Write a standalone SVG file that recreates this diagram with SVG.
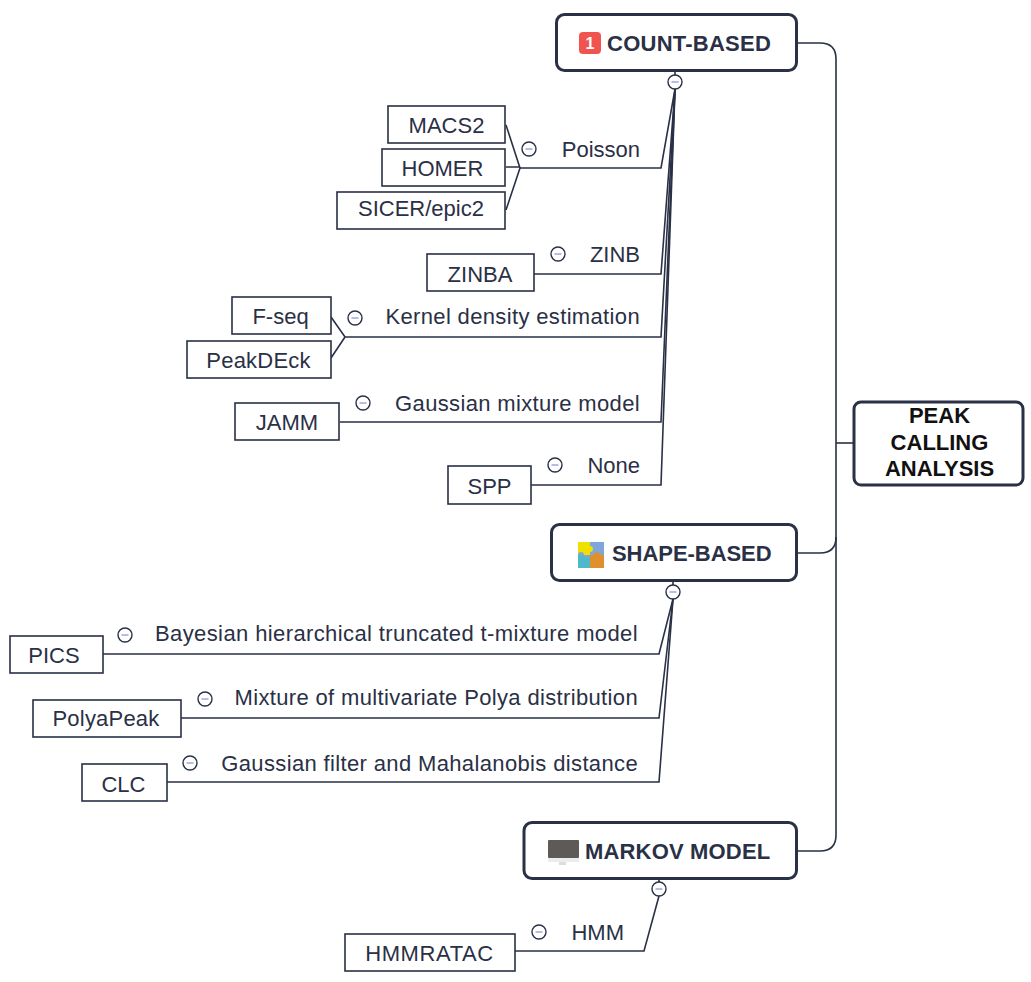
<svg xmlns="http://www.w3.org/2000/svg" width="1031" height="982" viewBox="0 0 1031 982">
<defs>
<style>
text{font-family:"Liberation Sans",Arial,sans-serif;fill:#2a3045}
.c{fill:none;stroke:#2a3045;stroke-width:1.6}
.main{fill:#fff;stroke:#2a3045;stroke-width:3}
.leaf{fill:#fff;stroke:#2a3045;stroke-width:1.6}
.t{font-size:22px}
.l{letter-spacing:.35px}
.h{font-size:22px;font-weight:700}
.m{text-anchor:middle}
.e{text-anchor:end}
.col{fill:#fff;stroke:#2a3045;stroke-width:1.4}
.dash{stroke:#a6abe0;stroke-width:1.6}
</style>
<g id="minus"><circle r="7" class="col"/><line x1="-3.5" x2="3.5" class="dash"/></g>
</defs>
<g id="connectors">
<path class="c" d="M797 43H820Q836 43 836 59V835Q836 851 820 851H797"/>
<path class="c" d="M797 553H820Q836 553 836 537"/>
<path class="c" d="M836 443H854"/>
<path class="c" d="M675 71V82"/>
<path class="c" d="M673 581V592"/>
<path class="c" d="M659 878V888"/>
<path class="c" d="M675 89L661 168H520"/>
<path class="c" d="M506 125L520 168L506 210M506 167H520"/>
<path class="c" d="M675 89L661 274H534"/>
<path class="c" d="M675 89L661 337H345L331 317M345 337L331 358"/>
<path class="c" d="M675 89L661 422H340"/>
<path class="c" d="M675 89L661 485H531"/>
<path class="c" d="M673 599L659 654H103"/>
<path class="c" d="M673 599L659 718H181"/>
<path class="c" d="M673 599L659 782H167"/>
<path class="c" d="M659 896L644 951H515"/>
</g>
<g id="root"><rect x="854" y="402" width="169" height="83" rx="7" class="main"/>
<text x="939.500" y="423" class="h m" style="fill:#111">PEAK</text><text x="939.500" y="450" class="h m" style="fill:#111">CALLING</text><text x="939.500" y="476" class="h m" style="fill:#111">ANALYSIS</text></g>
<g id="count-based"><rect x="556.500" y="14.500" width="240" height="56" rx="8" class="main"/>
<rect x="579" y="32" width="22" height="22" rx="4" fill="#f1534e"/><text x="590" y="49" class="m" style="fill:#fff;font-size:16px;font-weight:700">1</text>
<text x="607" y="51" class="h" style="letter-spacing:.25px">COUNT-BASED</text><use href="#minus" x="675" y="82"/></g>
<g id="shape-based"><rect x="551.500" y="524.500" width="245" height="56" rx="8" class="main"/>
<rect x="578" y="542" width="26" height="26" fill="#7ea6dc"/>
<path d="M578 542H590V546a3 3 0 0 1 0 6V555H584a3 3 0 0 0 -6 0Z" fill="#efe000"/>
<path d="M578 555H584a3 3 0 0 0 6 0H590V568H578Z" fill="#4db9c9"/>
<path d="M590 555H594a3 3 0 0 1 6 0H604V568H590Z" fill="#e0902a"/>
<text x="612" y="561" class="h" style="letter-spacing:-.05px">SHAPE-BASED</text><use href="#minus" x="673" y="592"/></g>
<g id="markov-model"><rect x="524" y="822.500" width="272.500" height="56" rx="8" class="main"/>
<rect x="548" y="840" width="31" height="18" rx="1" fill="#5e5a57"/><rect x="548" y="858" width="31" height="4" fill="#ececec"/><rect x="559" y="862" width="7" height="3" fill="#ddd"/>
<text x="585" y="859" class="h" style="letter-spacing:.17px">MARKOV MODEL</text><use href="#minus" x="659" y="889"/></g>

<g id="poisson"><text x="640" y="156.500" class="t e">Poisson</text><use href="#minus" x="529" y="149"/></g>
<g id="zinb"><text x="640" y="262" class="t e">ZINB</text><use href="#minus" x="558" y="254"/></g>
<g id="kde"><text x="640" y="324" class="t e l">Kernel density estimation</text><use href="#minus" x="355" y="318"/></g>
<g id="gmm"><text x="640" y="411" class="t e l">Gaussian mixture model</text><use href="#minus" x="363" y="403"/></g>
<g id="none"><text x="640" y="473" class="t e">None</text><use href="#minus" x="555" y="465"/></g>
<g id="bayes"><text x="638" y="641" class="t e" style="letter-spacing:.39px">Bayesian hierarchical truncated t-mixture model</text><use href="#minus" x="125" y="635"/></g>
<g id="polya"><text x="638" y="705" class="t e l">Mixture of multivariate Polya distribution</text><use href="#minus" x="205" y="699"/></g>
<g id="gauss"><text x="638" y="771" class="t e" style="letter-spacing:.36px">Gaussian filter and Mahalanobis distance</text><use href="#minus" x="190" y="763"/></g>
<g id="hmm"><text x="624" y="940" class="t e">HMM</text><use href="#minus" x="539" y="932"/></g>

<g id="macs2"><rect x="388" y="106" width="117" height="37" class="leaf"/><text x="446.500" y="132.500" class="t m">MACS2</text></g>
<g id="homer"><rect x="382" y="149" width="123" height="37" class="leaf"/><text x="442.500" y="176" class="t m">HOMER</text></g>
<g id="sicer"><rect x="337" y="192" width="168" height="37" class="leaf"/><text x="421" y="216" class="t m">SICER/epic2</text></g>
<g id="zinba"><rect x="427" y="254" width="107" height="37" class="leaf"/><text x="480" y="281.500" class="t m">ZINBA</text></g>
<g id="fseq"><rect x="232" y="297" width="99" height="37" class="leaf"/><text x="280.500" y="323.500" class="t m">F-seq</text></g>
<g id="peakdeck"><rect x="187" y="341" width="144" height="37" class="leaf"/><text x="258.500" y="368" class="t m" style="letter-spacing:.2px">PeakDEck</text></g>
<g id="jamm"><rect x="235" y="403" width="104" height="37" class="leaf"/><text x="287" y="430" class="t m">JAMM</text></g>
<g id="spp"><rect x="448" y="466" width="83" height="38" class="leaf"/><text x="489.500" y="494" class="t m">SPP</text></g>
<g id="pics"><rect x="10" y="636" width="93" height="37" class="leaf"/><text x="54" y="663" class="t m">PICS</text></g>
<g id="polyapeak"><rect x="33" y="700" width="148" height="37" class="leaf"/><text x="106" y="726" class="t m" style="letter-spacing:.2px">PolyaPeak</text></g>
<g id="clc"><rect x="82" y="764" width="85" height="37" class="leaf"/><text x="123.500" y="792" class="t m">CLC</text></g>
<g id="hmmratac"><rect x="345" y="934" width="170" height="37" class="leaf"/><text x="429.500" y="961" class="t m" style="letter-spacing:.6px">HMMRATAC</text></g>
</svg>
